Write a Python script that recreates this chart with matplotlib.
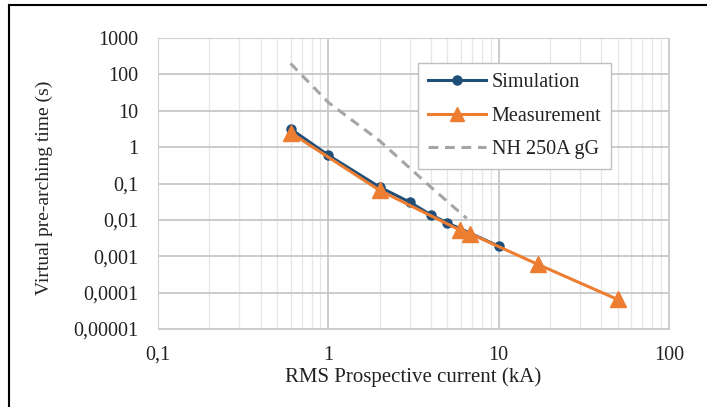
import matplotlib
matplotlib.use('Agg')
import matplotlib.pyplot as plt
from matplotlib.ticker import LogLocator
from matplotlib.lines import Line2D

plt.rcParams['font.family'] = ['Liberation Serif', 'DejaVu Serif']

# data
sim_current = [0.6, 1.0, 2.0, 3.0, 4.0, 5.0, 10.0]
sim_time = [3.2, 0.6, 0.08, 0.031, 0.0138, 0.0083, 0.0019]

meas_current = [0.6, 2.0, 5.9, 6.8, 17.0, 50.0]
meas_time = [2.5, 0.065, 0.0053, 0.0042, 0.0006, 0.000065]

fuse_current = [0.6, 1.0, 2.0, 4.0, 6.5]
fuse_time = [200, 17, 1.5, 0.08, 0.011]

xticks = [0.1, 1, 10, 100]
xlabels = ['0,1', '1', '10', '100']
yticks = [1e-5, 1e-4, 1e-3, 1e-2, 1e-1, 1, 10, 100, 1000]
ylabels = ['0,00001', '0,0001', '0,001', '0,01', '0,1', '1', '10', '100', '1000']

txt = '#222222'

fig = plt.figure(figsize=(7.07, 4.07), dpi=100)
ax = fig.add_axes([0.2235, 0.1916, 0.7225, 0.715])

ax.plot(fuse_current, fuse_time, color='#A5A5A5', lw=2.2, dashes=(3.2, 2.2), zorder=3)
ax.plot(sim_current, sim_time, color='#1F4E79', lw=2.2, marker='o', ms=6.5, zorder=4)
ax.plot(meas_current, meas_time, color='#ED7D31', lw=2.2, marker='^', ms=12, zorder=5)

ax.set_xscale('log')
ax.set_yscale('log')
ax.set_xlim(0.1, 100)
ax.set_ylim(1e-5, 1000)

ax.set_xticks(xticks)
ax.set_xticklabels(xlabels)
ax.set_yticks(yticks)
ax.set_yticklabels(ylabels)
ax.xaxis.set_minor_locator(LogLocator(base=10, subs=range(2, 10)))
ax.yaxis.set_minor_locator(LogLocator(base=10, subs=range(2, 10)))
ax.tick_params(which='both', length=0)
ax.tick_params(axis='y', labelsize=14.5, colors=txt, pad=14)
ax.tick_params(axis='x', labelsize=14.5, colors=txt, pad=12)

ax.grid(which='major', color='#C8C8C8', lw=1.3)
ax.grid(which='minor', color='#E6E6E6', lw=0.9)
ax.set_axisbelow(True)
for s in ax.spines.values():
    s.set_color('#D0D0D0')

ax.set_xlabel('RMS Prospective current (kA)', fontsize=15, color=txt)
ax.set_ylabel('Virtual pre-arching time (s)', fontsize=14, color=txt)
ax.xaxis.set_label_coords(0.5, -0.13)
ax.yaxis.set_label_coords(-0.206, 0.486)

handles = [
    Line2D([], [], color='#1F4E79', lw=2.2, marker='o', ms=6.5),
    Line2D([], [], color='#ED7D31', lw=2.2, marker='^', ms=10),
    Line2D([], [], color='#A5A5A5', lw=2.2, dashes=(3.2, 2.2)),
]
leg = ax.legend(handles, ['Simulation', 'Measurement', 'NH 250A gG'],
                loc='upper left', bbox_to_anchor=(0.509, 0.914), borderaxespad=0,
                fontsize=14.5, frameon=True, fancybox=False, edgecolor='#BFBFBF',
                framealpha=1, handlelength=2.9, labelspacing=0.72, borderpad=0.5,
                handletextpad=0.25)
leg.get_frame().set_linewidth(1.0)
for t in leg.get_texts():
    t.set_color(txt)

# page frame (top and left edges visible in the source)
fig.add_artist(Line2D([9 / 707, 1], [1 - 5 / 407, 1 - 5 / 407], color='black', lw=1.5, transform=fig.transFigure))
fig.add_artist(Line2D([9 / 707, 9 / 707], [0, 1 - 5 / 407], color='black', lw=1.5, transform=fig.transFigure))

fig.savefig('out.png', dpi=100)
